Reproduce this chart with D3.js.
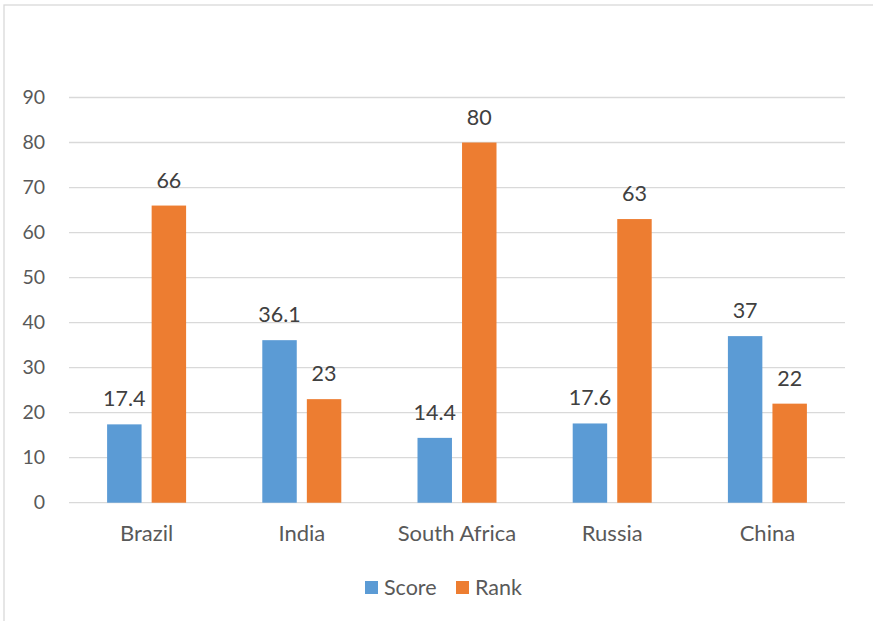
<!DOCTYPE html>
<html><head><meta charset="utf-8">
<script src="https://cdn.jsdelivr.net/npm/d3@7"></script>
<style>body{margin:0;background:#fff}svg{display:block}text{font-family:Lato,"Open Sans",sans-serif}</style>
</head><body><svg id="c" width="873" height="621"></svg>
<script>
const categories = ["Brazil", "India", "South Africa", "Russia", "China"];
const seriesNames = ["Score", "Rank"];
const score = [17.4, 36.1, 14.4, 17.6, 37];
const rank = [66, 23, 80, 63, 22];
const yTicks = [0, 10, 20, 30, 40, 50, 60, 70, 80, 90];
const colors = ["#5B9BD5", "#ED7D31"];

const svg = d3.select("#c");
const W = 873, H = 621;
const plot = {left: 69, right: 845, top: 97.5, bottom: 502.7};

svg.append("rect").attr("x", 4).attr("y", 5).attr("width", W + 10).attr("height", H + 10)
  .attr("fill", "#fff").attr("stroke", "#D9D9D9").attr("stroke-width", 1.3);

const x = d3.scaleBand().domain(categories).range([plot.left, plot.right]).paddingInner(0).paddingOuter(0);
const y = d3.scaleLinear().domain([0, 90]).range([plot.bottom, plot.top]);
const bw = x.bandwidth() * 0.222, gap = x.bandwidth() * 0.065;
const sx = d3.scaleOrdinal().domain(seriesNames).range([-(gap / 2 + bw), gap / 2]);

// gridlines
svg.append("g").selectAll("line").data(yTicks).join("line")
  .attr("x1", plot.left).attr("x2", plot.right)
  .attr("y1", d => y(d)).attr("y2", d => y(d))
  .attr("stroke", "#D9D9D9").attr("stroke-width", 1.3);

// y axis labels
const yAxis = d3.axisLeft(y).tickValues(yTicks).tickSize(0).tickPadding(24);
const ya = svg.append("g").attr("transform", `translate(${plot.left},0)`).call(yAxis);
ya.select(".domain").remove();
ya.selectAll("text").attr("font-size", 19.5).attr("fill", "#595959").attr("font-family", "Lato");

// x axis labels
const xAxis = d3.axisBottom(x).tickSize(0).tickPadding(0);
const xa = svg.append("g").attr("transform", `translate(0,${plot.bottom})`).call(xAxis);
xa.select(".domain").remove();
xa.selectAll("text").attr("font-size", 22).attr("fill", "#595959").attr("font-family", "Lato")
  .attr("dy", null).attr("y", 38.5);

const data = [score, rank];
data.forEach((vals, si) => {
  const g = svg.append("g");
  g.selectAll("rect").data(vals).join("rect")
    .attr("x", (d, i) => x(categories[i]) + x.bandwidth() / 2 + sx(seriesNames[si]))
    .attr("width", bw)
    .attr("y", d => y(d))
    .attr("height", d => y(0) - y(d))
    .attr("fill", colors[si]);
  g.selectAll("text").data(vals).join("text")
    .attr("x", (d, i) => x(categories[i]) + x.bandwidth() / 2 + sx(seriesNames[si]) + bw / 2)
    .attr("y", d => y(d) - 18)
    .attr("text-anchor", "middle")
    .attr("font-size", 21.5).attr("fill", "#404040")
    .text(d => d);
});

// legend
const legX = [365, 456];
const lg = svg.append("g");
seriesNames.forEach((n, i) => {
  lg.append("rect").attr("x", legX[i]).attr("y", 581).attr("width", 13).attr("height", 13).attr("fill", colors[i]);
  lg.append("text").attr("x", legX[i] + 19).attr("y", 594.5).attr("font-size", 21.5).attr("fill", "#595959").text(n);
});
</script></body></html>
